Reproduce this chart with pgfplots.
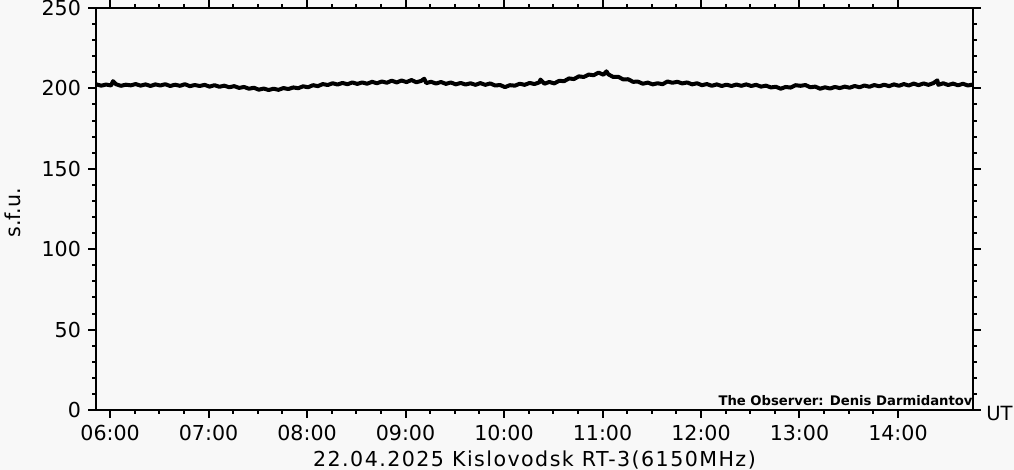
\documentclass[border=0pt]{standalone}
\usepackage{fontspec}
\setmainfont{DejaVu Sans}
\usepackage{pgfplots}
\pgfplotsset{compat=1.18}
\definecolor{bg}{HTML}{F8F8F8}
\begin{document}
\begin{tikzpicture}
\fill[bg] (0,0) rectangle (507pt,235pt);
\useasboundingbox (0,0) rectangle (507pt,235pt);
\begin{axis}[
  at={(48pt,30pt)}, anchor=south west,
  scale only axis, width=438.5pt, height=201pt,
  xmin=5.857, xmax=14.762, ymin=0, ymax=250,
  xtick={6,7,8,9,10,11,12,13,14},
  xticklabels={06:00,07:00,08:00,09:00,10:00,11:00,12:00,13:00,14:00},
  minor x tick num=3,
  ytick={0,50,100,150,200,250},
  minor y tick num=4,
  tick align=outside,
  major tick length=4pt, minor tick length=2pt,
  axis line style={line width=1pt},
  every tick/.style={black, line width=1pt},
  /pgf/number format/assume math mode=true,
  tick label style={font=\fontsize{10.3pt}{12pt}\selectfont},
  axis background/.style={fill=bg},
  clip=false,
]
\addplot[black, line width=2pt, line join=round] coordinates {
(5.86,202.5)(5.91,201.7)(5.96,202.4)(6.01,201.8)(6.03,204.5)(6.06,202.6)(6.11,201.6)(6.16,202.3)(6.21,201.9)(6.26,202.7)
(6.31,201.7)(6.36,202.5)(6.41,201.5)(6.46,202.5)(6.51,201.8)(6.56,202.6)(6.61,201.5)(6.66,202.3)(6.71,201.6)(6.76,202.6)
(6.81,201.4)(6.86,202.1)(6.91,201.5)(6.96,202.2)(7.01,201.1)(7.06,202.0)(7.11,201.0)(7.16,201.7)(7.21,200.7)(7.26,201.4)
(7.31,200.3)(7.36,200.9)(7.41,199.8)(7.46,200.4)(7.51,199.2)(7.56,199.9)(7.61,199.0)(7.66,199.8)(7.71,199.1)(7.76,200.2)
(7.81,199.6)(7.86,200.6)(7.91,200.1)(7.96,201.3)(8.01,200.7)(8.06,202.0)(8.11,201.4)(8.16,202.7)(8.21,202.1)(8.26,203.2)
(8.31,202.4)(8.36,203.4)(8.41,202.6)(8.46,203.7)(8.51,202.8)(8.56,203.7)(8.61,202.9)(8.66,204.1)(8.71,203.2)(8.76,204.3)
(8.81,203.5)(8.86,204.8)(8.91,203.7)(8.96,204.9)(9.01,203.9)(9.06,205.2)(9.11,203.8)(9.16,204.7)(9.19,206.0)(9.21,203.3)(9.26,204.1)
(9.31,203.0)(9.36,204.0)(9.41,202.8)(9.46,203.7)(9.51,202.5)(9.56,203.4)(9.61,202.4)(9.66,203.2)(9.71,202.2)(9.76,203.3)
(9.81,202.2)(9.86,203.1)(9.91,201.8)(9.96,202.1)(10.01,200.8)(10.06,202.0)(10.11,201.7)(10.16,202.9)(10.21,202.2)(10.26,203.4)
(10.31,202.7)(10.36,203.8)(10.37,205.5)(10.41,202.9)(10.46,204.0)(10.51,203.1)(10.56,204.7)(10.61,204.5)(10.66,206.2)(10.71,205.8)(10.76,207.5)
(10.81,207.1)(10.86,208.6)(10.91,208.2)(10.96,209.8)(11.01,208.5)(11.04,210.6)(11.06,208.7)(11.11,207.1)(11.16,207.2)(11.21,205.6)(11.26,205.7)
(11.31,204.1)(11.36,204.2)(11.41,202.9)(11.46,203.6)(11.51,202.5)(11.56,203.2)(11.61,202.6)(11.66,204.3)(11.71,203.5)(11.76,204.1)
(11.81,203.1)(11.86,203.7)(11.91,202.5)(11.96,203.2)(12.01,202.0)(12.06,202.7)(12.11,201.6)(12.16,202.5)(12.21,201.5)(12.26,202.3)
(12.31,201.5)(12.36,202.4)(12.41,201.6)(12.46,202.5)(12.51,201.5)(12.56,202.2)(12.61,201.1)(12.66,201.7)(12.71,200.6)(12.76,201.0)
(12.81,199.8)(12.86,200.9)(12.91,200.5)(12.96,202.0)(13.01,201.6)(13.06,202.1)(13.11,200.7)(13.16,201.1)(13.21,199.8)(13.26,200.7)
(13.31,199.9)(13.36,200.9)(13.41,200.2)(13.46,201.1)(13.51,200.4)(13.56,201.5)(13.61,200.7)(13.66,201.8)(13.71,201.0)(13.76,202.1)
(13.81,201.3)(13.86,202.3)(13.91,201.4)(13.96,202.5)(14.01,201.6)(14.06,202.7)(14.11,201.8)(14.16,203.0)(14.21,202.0)(14.26,203.1)
(14.31,202.2)(14.36,203.3)(14.40,205.0)(14.41,202.2)(14.46,203.2)(14.51,202.1)(14.56,203.0)(14.61,201.9)(14.66,202.9)(14.71,201.8)(14.76,202.4)
};
\node[anchor=south east, inner sep=0pt, font=\bfseries\fontsize{6.6pt}{7pt}\selectfont] at ([yshift=2pt]rel axis cs:1,0) {The Observer: Denis Darmidantov};
\node[anchor=west, inner sep=0pt, font=\fontsize{9.8pt}{12pt}\selectfont] at ([xshift=6.5pt,yshift=-2pt]rel axis cs:1,0) {UT};
\node[anchor=base, inner sep=0pt, font=\fontsize{10.3pt}{12pt}\selectfont\addfontfeatures{LetterSpace=7}] at ([yshift=-28.5pt]rel axis cs:0.5,0) {22.04.2025 Kislovodsk RT-3(6150MHz)};
\node[rotate=90, anchor=center, inner sep=0pt, font=\fontsize{10.3pt}{12pt}\selectfont] at ([xshift=-41.5pt,yshift=-2pt]rel axis cs:0,0.5) {s.f.u.};
\end{axis}
\end{tikzpicture}
\end{document}
